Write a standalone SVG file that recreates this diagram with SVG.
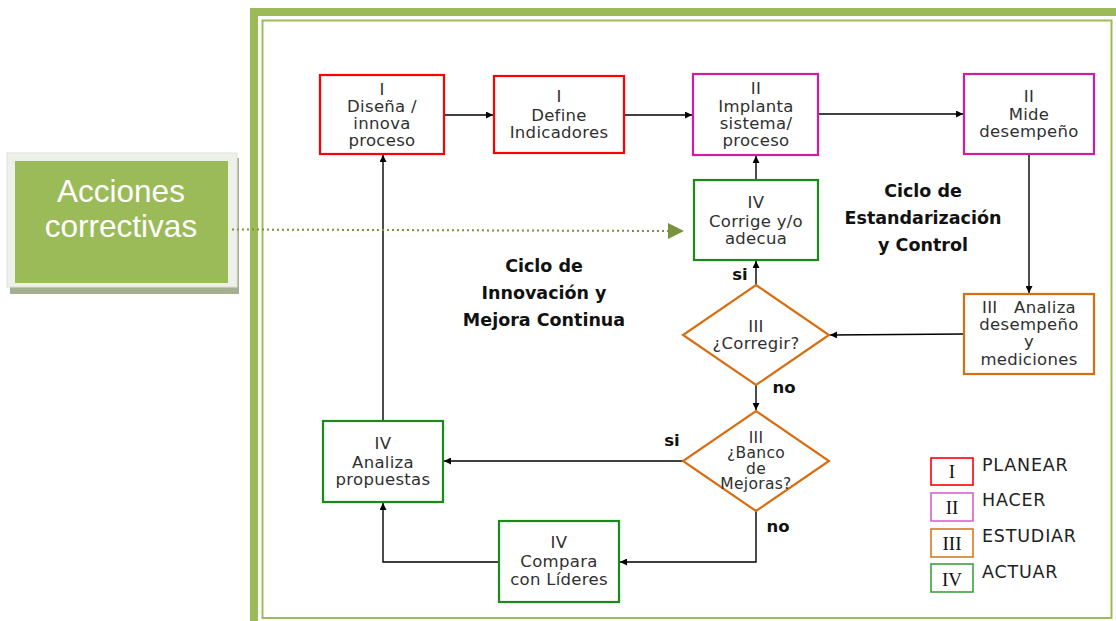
<svg xmlns="http://www.w3.org/2000/svg" width="1116" height="621" viewBox="0 0 1116 621">
  <defs>
    <style>
      .node text { font-family: "DejaVu Sans", "Liberation Sans", sans-serif; font-size: 16.5px; fill: #303030; text-anchor: middle; letter-spacing: 0.3px; }
      .node text.tight { font-size: 15.5px; }
      .box { fill: #ffffff; stroke-width: 2.2; }
      .plan { stroke: #ff0000; }
      .do { stroke: #d21aa8; }
      .study { stroke: #d86e12; }
      .act { stroke: #1a8a1a; }
      .conn { fill: none; stroke: #000000; stroke-width: 1.4; }
      .lbl { font-family: "DejaVu Sans", "Liberation Sans", sans-serif; font-weight: bold; font-size: 16.5px; fill: #111111; text-anchor: middle; }
      .title { font-family: "DejaVu Sans", "Liberation Sans", sans-serif; font-weight: bold; font-size: 17.5px; fill: #111111; text-anchor: middle; }
      .legend-box { fill: #ffffff; stroke-width: 1.6; }
      .legend-num { font-family: "Liberation Serif", "DejaVu Serif", serif; font-size: 19px; fill: #111111; text-anchor: middle; }
      .legend-txt { font-family: "DejaVu Sans", "Liberation Sans", sans-serif; font-size: 17.5px; fill: #222222; letter-spacing: 0.8px; }
    </style>
    <marker id="arrow" viewBox="0 0 10 10" refX="10" refY="5" markerWidth="7" markerHeight="7" markerUnits="userSpaceOnUse" orient="auto">
      <path d="M0,0 L10,5 L0,10 z" fill="#000000"/>
    </marker>
  </defs>

  <rect width="1116" height="621" fill="#ffffff"/>

  <!-- page frame: thick outer band and thin inner rule -->
  <g id="frame">
    <rect x="254" y="12" width="880" height="620" fill="none" stroke="#9bbb59" stroke-width="8"/>
    <rect x="262.5" y="20.5" width="849" height="597.5" fill="none" stroke="#9bbb59" stroke-width="2"/>
  </g>

  <!-- side callout -->
  <g id="acciones">
    <rect x="10" y="158" width="229" height="136" fill="#a6ae92"/>
    <rect x="7" y="153" width="230" height="134" fill="#eef0ea" stroke="#dfe2da" stroke-width="1"/>
    <rect x="15" y="161" width="213" height="122" fill="#9bbb59"/>
    <text x="121" y="202" font-family="Liberation Sans, Arial, sans-serif" font-size="31.5" fill="#ffffff" text-anchor="middle">Acciones</text>
    <text x="121" y="237" font-family="Liberation Sans, Arial, sans-serif" font-size="31.5" fill="#ffffff" text-anchor="middle">correctivas</text>
  </g>

  <!-- connectors -->
  <g id="connectors">
    <line class="conn" x1="444" y1="115" x2="493" y2="115" marker-end="url(#arrow)"/>
    <line class="conn" x1="624" y1="115" x2="692" y2="115" marker-end="url(#arrow)"/>
    <line class="conn" x1="818" y1="114" x2="963" y2="114" marker-end="url(#arrow)"/>
    <line class="conn" x1="1029" y1="154" x2="1029" y2="293" marker-end="url(#arrow)"/>
    <line class="conn" x1="964" y1="334" x2="830" y2="335" marker-end="url(#arrow)"/>
    <line class="conn" x1="756" y1="285" x2="756" y2="261" marker-end="url(#arrow)"/>
    <line class="conn" x1="756" y1="180" x2="756" y2="156" marker-end="url(#arrow)"/>
    <line class="conn" x1="756" y1="385" x2="756" y2="410" marker-end="url(#arrow)"/>
    <line class="conn" x1="683" y1="461" x2="444" y2="461" marker-end="url(#arrow)"/>
    <polyline class="conn" points="756,511 756,562 620,562" marker-end="url(#arrow)"/>
    <polyline class="conn" points="499,562 383,562 383,503" marker-end="url(#arrow)"/>
    <line class="conn" x1="383" y1="421" x2="383" y2="155" marker-end="url(#arrow)"/>

    <!-- dotted link from the callout -->
    <line x1="232" y1="229.5" x2="668" y2="231" stroke="#77933c" stroke-width="2" stroke-dasharray="2 3"/>
    <path d="M668,223 L684,231 L668,239 z" fill="#77933c"/>

    <text class="lbl" x="740" y="280">si</text>
    <text class="lbl" x="784" y="393">no</text>
    <text class="lbl" x="672" y="446">si</text>
    <text class="lbl" x="778" y="532">no</text>
  </g>

  <!-- PLANEAR -->
  <g id="disena" class="node">
    <rect class="box plan" x="320" y="75" width="124" height="79"/>
    <text x="382" y="95">I</text>
    <text x="382" y="112">Diseña /</text>
    <text x="382" y="129">innova</text>
    <text x="382" y="146">proceso</text>
  </g>
  <g id="define" class="node">
    <rect class="box plan" x="494" y="76" width="130" height="77"/>
    <text x="559" y="102">I</text>
    <text x="559" y="121">Define</text>
    <text x="559" y="138">Indicadores</text>
  </g>

  <!-- HACER -->
  <g id="implanta" class="node">
    <rect class="box do" x="693" y="74" width="125" height="81"/>
    <text x="756" y="94">II</text>
    <text x="756" y="112">Implanta</text>
    <text x="756" y="129">sistema/</text>
    <text x="756" y="146">proceso</text>
  </g>
  <g id="mide" class="node">
    <rect class="box do" x="964" y="74" width="130" height="80"/>
    <text x="1029" y="102">II</text>
    <text x="1029" y="120">Mide</text>
    <text x="1029" y="137">desempeño</text>
  </g>

  <!-- ESTUDIAR -->
  <g id="analiza-desempeno" class="node">
    <rect class="box study" x="964" y="294" width="130" height="80"/>
    <text x="1029" y="313" xml:space="preserve">III   Analiza</text>
    <text x="1029" y="330">desempeño</text>
    <text x="1029" y="347">y</text>
    <text x="1029" y="365">mediciones</text>
  </g>
  <g id="corregir" class="node">
    <polygon class="box study" points="756,285 829,335 756,385 683,335"/>
    <text x="756" y="332">III</text>
    <text x="756" y="349">¿Corregir?</text>
  </g>
  <g id="banco" class="node">
    <polygon class="box study" points="756,411 829,461 756,511 683,461"/>
    <text class="tight" x="756" y="443">III</text>
    <text class="tight" x="756" y="458">¿Banco</text>
    <text class="tight" x="756" y="474">de</text>
    <text class="tight" x="756" y="489">Mejoras?</text>
  </g>

  <!-- ACTUAR -->
  <g id="corrige" class="node">
    <rect class="box act" x="694" y="180" width="124" height="80"/>
    <text x="756" y="208">IV</text>
    <text x="756" y="227">Corrige y/o</text>
    <text x="756" y="244">adecua</text>
  </g>
  <g id="analiza-propuestas" class="node">
    <rect class="box act" x="323" y="421" width="120" height="81"/>
    <text x="383" y="449">IV</text>
    <text x="383" y="468">Analiza</text>
    <text x="383" y="485">propuestas</text>
  </g>
  <g id="compara" class="node">
    <rect class="box act" x="499" y="521" width="120" height="81"/>
    <text x="559" y="548">IV</text>
    <text x="559" y="567">Compara</text>
    <text x="559" y="585">con Líderes</text>
  </g>

  <!-- cycle titles -->
  <g id="titles">
    <text class="title" x="923" y="197">Ciclo de</text>
    <text class="title" x="923" y="224">Estandarización</text>
    <text class="title" x="923" y="251">y Control</text>
    <text class="title" x="544" y="272">Ciclo de</text>
    <text class="title" x="544" y="299">Innovación y</text>
    <text class="title" x="544" y="326">Mejora Continua</text>
  </g>

  <!-- legend -->
  <g id="legend">
    <rect class="legend-box" x="931" y="458" width="42" height="27" stroke="#ff0000"/>
    <text class="legend-num" x="952" y="478">I</text>
    <text class="legend-txt" x="982" y="471">PLANEAR</text>
    <rect class="legend-box" x="931" y="493" width="42" height="28" stroke="#e060c4"/>
    <text class="legend-num" x="952" y="514">II</text>
    <text class="legend-txt" x="982" y="506">HACER</text>
    <rect class="legend-box" x="931" y="529" width="42" height="28" stroke="#d87a20"/>
    <text class="legend-num" x="952" y="550">III</text>
    <text class="legend-txt" x="982" y="542">ESTUDIAR</text>
    <rect class="legend-box" x="931" y="564" width="42" height="28" stroke="#3ca03c"/>
    <text class="legend-num" x="952" y="586">IV</text>
    <text class="legend-txt" x="982" y="578">ACTUAR</text>
  </g>
</svg>
